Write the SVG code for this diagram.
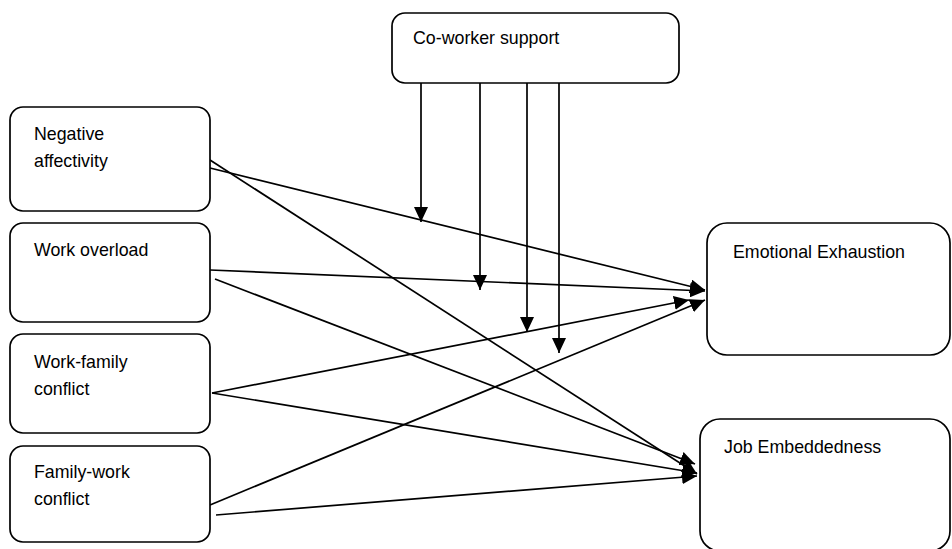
<svg xmlns="http://www.w3.org/2000/svg" width="952" height="549" viewBox="0 0 952 549">
<defs>
<style>
.box{fill:#fff;stroke:#000;stroke-width:1.7}
.lbl{font-family:"Liberation Sans",Arial,sans-serif;font-size:17.8px;fill:#000}
.c{stroke:#000;stroke-width:1.7;fill:none;marker-end:url(#ah)}
</style>
<marker id="ah" markerUnits="userSpaceOnUse" markerWidth="15" markerHeight="14" refX="15" refY="7" orient="auto">
<path d="M0,0 L15,7 L0,14 Z" fill="#000"/>
</marker>
</defs>
<rect width="952" height="549" fill="#fff"/>
<g id="connectors">
<line class="c" x1="421" y1="83" x2="421" y2="222"/>
<line class="c" x1="480" y1="83" x2="480" y2="290"/>
<line class="c" x1="527" y1="83" x2="527" y2="332"/>
<line class="c" x1="559" y1="83" x2="559" y2="353"/>
<line class="c" x1="210" y1="168" x2="705" y2="290"/>
<line class="c" x1="210" y1="270" x2="705" y2="291"/>
<line class="c" x1="212" y1="393" x2="689" y2="300"/>
<line class="c" x1="210" y1="505" x2="705" y2="300"/>
<line class="c" x1="210" y1="160" x2="697" y2="474"/>
<line class="c" x1="215" y1="279" x2="695" y2="464"/>
<line class="c" x1="212" y1="393" x2="697" y2="473"/>
<line class="c" x1="216" y1="515" x2="697" y2="476"/>
</g>
<g id="coworker">
<rect class="box" x="392" y="13" width="287" height="70" rx="13"/>
<text class="lbl" x="413" y="44">Co-worker support</text>
</g>
<g id="negative">
<rect class="box" x="10" y="107" width="200" height="104" rx="13"/>
<text class="lbl" x="34" y="140">Negative</text>
<text class="lbl" x="34" y="167">affectivity</text>
</g>
<g id="overload">
<rect class="box" x="10" y="223" width="200" height="99" rx="13"/>
<text class="lbl" x="34" y="256">Work overload</text>
</g>
<g id="wfc">
<rect class="box" x="10" y="334" width="200" height="99" rx="13"/>
<text class="lbl" x="34" y="368">Work-family</text>
<text class="lbl" x="34" y="395">conflict</text>
</g>
<g id="fwc">
<rect class="box" x="10" y="446" width="200" height="96" rx="13"/>
<text class="lbl" x="34" y="478">Family-work</text>
<text class="lbl" x="34" y="505">conflict</text>
</g>
<g id="exhaustion">
<rect class="box" x="707" y="223" width="243" height="132" rx="20"/>
<text class="lbl" x="733" y="258">Emotional Exhaustion</text>
</g>
<g id="embeddedness">
<rect class="box" x="700" y="419" width="250" height="132" rx="20"/>
<text class="lbl" x="724" y="453">Job Embeddedness</text>
</g>
</svg>
